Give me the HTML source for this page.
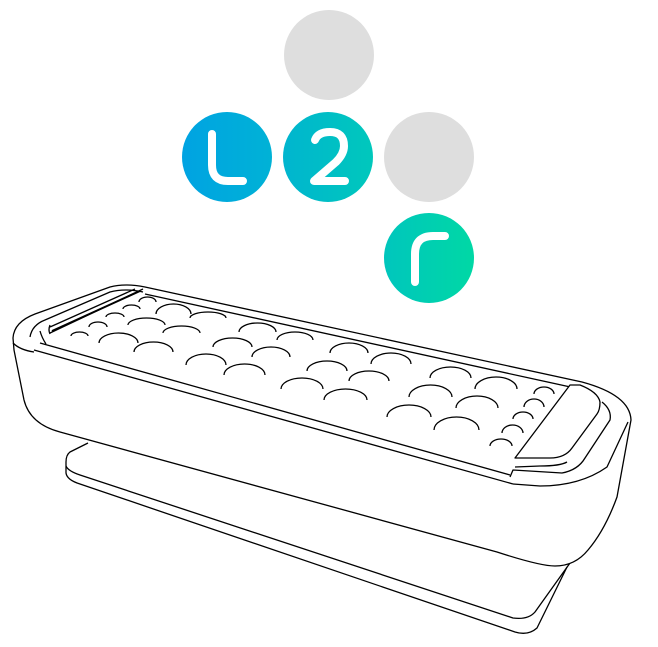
<!DOCTYPE html>
<html><head><meta charset="utf-8"><style>
html,body{margin:0;padding:0;background:#fff;width:658px;height:647px;overflow:hidden}
svg{display:block}
</style></head><body>
<svg width="658" height="647" viewBox="0 0 658 647" xmlns="http://www.w3.org/2000/svg">
<defs>
<linearGradient id="g1" x1="0" x2="1" y1="0" y2="0"><stop offset="0" stop-color="#00a3e2"/><stop offset="1" stop-color="#00b2d6"/></linearGradient>
<linearGradient id="g2" x1="0" x2="1" y1="0" y2="0"><stop offset="0" stop-color="#00b5cf"/><stop offset="1" stop-color="#00c8bc"/></linearGradient>
<linearGradient id="g3" x1="0" x2="1" y1="0" y2="0"><stop offset="0" stop-color="#00c6bd"/><stop offset="1" stop-color="#00d8a5"/></linearGradient>
</defs>
<circle cx="329" cy="55" r="45" fill="#dedede"/>
<circle cx="227" cy="157" r="45" fill="url(#g1)"/>
<circle cx="328" cy="157" r="45" fill="url(#g2)"/>
<circle cx="429" cy="157" r="45" fill="#dedede"/>
<circle cx="429" cy="258" r="45" fill="url(#g3)"/>
<g fill="none" stroke="#fff" stroke-width="8" stroke-linecap="round" stroke-linejoin="round">
<path d="M212,134 V165 Q212,181 228,181 H243"/>
<path d="M315,140 Q318,132 330,132 Q344,132 344,146 Q344,154 336,162 L314,181 H345"/>
<path d="M415,282 V254 Q415,236 433,236 H445"/>
</g>
<g fill="none" stroke="#000" stroke-width="1.3" stroke-linejoin="round">
<path d="M88,443 L70,452 Q66,455 66,462 V473 Q67,480 80,484 L515,632 Q528,636 537,628 L567,567"/>
<path d="M66,466 Q68,471 80,475 L513,618 Q528,620 535,612 L570,563"/>
<path d="M13,338 Q14,322 35,314 L110,287 Q125,283 145,287 L582,382 Q630,395 631,420 L617,497 Q605,530 588,550 Q575,566 555,566 Q540,566 497,552 L60,432 Q30,424 24,400 L14,350 Z" fill="#fff"/>
<path d="M30,337 Q32,325 45,320 L110,292 Q125,288 143,292"/>
<path d="M40,331 Q42,338 46,344"/>
<path d="M50,333 L143,289"/>
<path d="M50,327 L135,289"/>
<path d="M52,331 L140,291" stroke-width="2"/>
<path d="M50,325 Q48,330 50,334"/>
<path d="M145,294 L575,388"/>
<path d="M40,343 L510,475"/>
<path d="M34,350 L513,484"/>
<path d="M13,343 Q20,350 34,352"/>
<path d="M570,385 L580,385 Q598,392 600,402 Q600,410 597,414 L572,448 Q565,458 550,458 L515,458 Z" fill="#fff"/>
<path d="M602,402 Q612,410 610,420 L585,458 Q578,470 562,473 L513,470 L510,477"/>
<path d="M567,462 Q560,466 540,466 L515,467"/>
<path d="M513,484 L540,486 Q580,486 607,467 L628,422"/>
</g>
<g fill="none" stroke="#000" stroke-width="1.3">
<path d="M71,336 A8.5,4 0 0 1 88,336"/>
<path d="M89,327 A9,5 0 0 1 107,327"/>
<path d="M106,317 A9,4 0 0 1 124,317"/>
<path d="M123,309 A8.5,4 0 0 1 140,309"/>
<path d="M139,302 A8.5,5 0 0 1 156,302"/>
<path d="M99,343 A19.5,10 0 0 1 138,343"/>
<path d="M128,325 A18.5,7 0 0 1 165,325"/>
<path d="M156,314 A17.5,10 0 0 1 191,314"/>
<path d="M134,352 A19.5,10 0 0 1 173,352"/>
<path d="M163,333 A18.5,7 0 0 1 200,333"/>
<path d="M190,318 A18,6 0 0 1 226,318"/>
<path d="M186,365 A20,11 0 0 1 226,365"/>
<path d="M213,347 A19.5,9 0 0 1 252,347"/>
<path d="M239,332 A18.5,9 0 0 1 276,332"/>
<path d="M224,375 A20.5,11 0 0 1 265,375"/>
<path d="M252,357 A19,10 0 0 1 290,357"/>
<path d="M277,340 A18,8 0 0 1 313,340"/>
<path d="M281,389 A21,11 0 0 1 323,389"/>
<path d="M307,371 A20,10 0 0 1 347,371"/>
<path d="M330,353 A19,10 0 0 1 368,353"/>
<path d="M324,400 A21.5,11 0 0 1 367,400"/>
<path d="M349,381 A20,10 0 0 1 389,381"/>
<path d="M371,364 A20,11 0 0 1 411,364"/>
<path d="M387,417 A22,12 0 0 1 431,417"/>
<path d="M409,397 A21.5,12 0 0 1 452,397"/>
<path d="M430,378 A20.5,11 0 0 1 471,378"/>
<path d="M434,430 A22.5,13 0 0 1 479,430"/>
<path d="M456,408 A21,12 0 0 1 498,408"/>
<path d="M475,389 A21,12 0 0 1 517,389"/>
<path d="M490,446 A11,7 0 0 1 512,446"/>
<path d="M502,433 A10.5,8 0 0 1 523,433"/>
<path d="M513,419 A10,7 0 0 1 533,419"/>
<path d="M524,407 A10,8 0 0 1 544,407"/>
<path d="M534,394 A10,7 0 0 1 554,394"/>
</g>
</svg>
</body></html>
